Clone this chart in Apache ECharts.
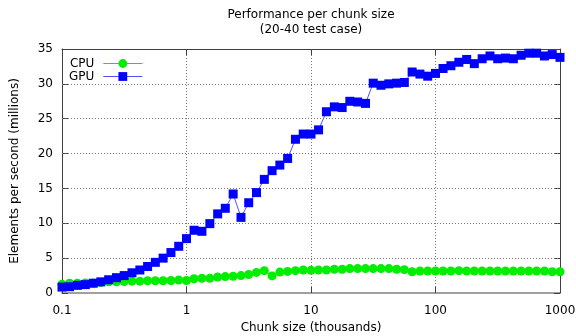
<!DOCTYPE html>
<html>
<head>
<meta charset="utf-8">
<script src="https://cdn.jsdelivr.net/npm/echarts@6/dist/echarts.min.js"></script>
<style>
html,body{margin:0;padding:0;background:#fff;}
#chart{width:576px;height:336px;}
</style>
</head>
<body>
<div id="chart"></div>
<script>
// Chunk sizes (thousands)
var chunkSizes = [0.1, 0.115, 0.133, 0.154, 0.178, 0.205, 0.237, 0.274, 0.316, 0.365, 0.422, 0.487, 0.562, 0.649, 0.75, 0.866,
  1, 1.15, 1.33, 1.54, 1.78, 2.05, 2.37, 2.74, 3.16, 3.65, 4.22, 4.87, 5.62, 6.49, 7.5, 8.66,
  10, 11.5, 13.3, 15.4, 17.8, 20.5, 23.7, 27.4, 31.6, 36.5, 42.2, 48.7, 56.2, 64.9, 75, 86.6,
  100, 115, 133, 154, 178, 205, 237, 274, 316, 365, 422, 487, 562, 649, 750, 866, 1000];
// Elements per second (millions)
var cpuValues = [1.25, 1.4, 1.4, 1.45, 1.45, 1.5, 1.6, 1.6, 1.65, 1.7, 1.7, 1.75, 1.75, 1.75, 1.8, 1.85,
  1.8, 2.05, 2.1, 2.1, 2.3, 2.35, 2.4, 2.5, 2.65, 2.95, 3.2, 2.45, 3.0, 3.1, 3.2, 3.3,
  3.25, 3.3, 3.3, 3.4, 3.4, 3.5, 3.5, 3.5, 3.5, 3.5, 3.5, 3.4, 3.35, 3.05, 3.15, 3.15,
  3.15, 3.15, 3.15, 3.2, 3.15, 3.15, 3.15, 3.15, 3.15, 3.15, 3.15, 3.15, 3.15, 3.15, 3.15, 3.05, 3.05];
var gpuValues = [0.85, 0.9, 1.1, 1.2, 1.4, 1.6, 1.9, 2.2, 2.5, 2.9, 3.3, 3.8, 4.4, 5.0, 5.8, 6.7,
  7.8, 9.0, 8.85, 9.95, 11.35, 12.15, 14.2, 10.85, 12.95, 14.4, 16.3, 17.55, 18.35, 19.3, 22.05, 22.8,
  22.8, 23.4, 26.0, 26.7, 26.6, 27.5, 27.4, 27.2, 30.1, 29.8, 30.0, 30.1, 30.2, 31.7, 31.4, 31.1,
  31.5, 32.2, 32.6, 33.1, 33.5, 32.9, 33.6, 34.0, 33.6, 33.7, 33.6, 34.1, 34.4, 34.4, 34.0, 34.2, 33.8];
// Horizontal grid levels (y ticks inside the plot)
var yGridValues = [5, 10, 15, 20, 25, 30];
var titleLines = ['Performance per chunk size', '(20-40 test case)'];

function pairs(xs, ys) { return xs.map(function (x, i) { return [x, ys[i]]; }); }

var FONT = 'DejaVu Sans';
var chart = echarts.init(document.getElementById('chart'), null, {renderer: 'canvas'});

function gridLine(color) { return {show: true, lineStyle: {color: color, type: [1, 2], width: 1}}; }
function tick() { return {show: true, inside: true, length: 6, lineStyle: {color: '#404040', width: 1}}; }
function axisLine(color, width) { return {show: true, onZero: false, lineStyle: {color: color, width: width}}; }

var option = {
  animation: false,
  backgroundColor: '#ffffff',
  textStyle: {fontFamily: FONT},
  graphic: [{
    type: 'text', x: 311, y: 8,
    style: {text: titleLines.join('\n'), align: 'center', verticalAlign: 'top',
      font: '12px "DejaVu Sans"', lineHeight: 14.5, fill: '#000'}
  }],
  grid: {left: 62, right: 16, top: 49, bottom: 43, containLabel: false, outerBoundsMode: 'none'},
  legend: {
    orient: 'vertical', left: 64, top: 52, align: 'right',
    itemWidth: 39, itemHeight: 11, itemGap: 0,
    lineStyle: {width: 1},
    textStyle: {fontFamily: FONT, fontSize: 12, color: '#000', lineHeight: 13, padding: [0, 4, 0, 0]},
    data: ['CPU', 'GPU']
  },
  xAxis: [
    {
      type: 'log', logBase: 10, min: 0.1, max: 1000, position: 'bottom',
      name: 'Chunk size (thousands)', nameLocation: 'middle', nameGap: 29,
      nameTextStyle: {fontFamily: FONT, fontSize: 12, color: '#000'},
      axisLine: axisLine('#a0a0a0', 2),
      axisTick: tick(),
      axisLabel: {fontFamily: FONT, fontSize: 12, color: '#000', margin: 12,
        formatter: function (v) { return String(+(+v).toPrecision(6)); }},
      splitLine: gridLine('#777777')
    },
    {
      type: 'value', min: -1, max: 3, interval: 1, position: 'top',
      axisLine: axisLine('#404040', 1),
      axisTick: tick(),
      axisLabel: {show: false},
      splitLine: {show: false}
    }
  ],
  yAxis: [
    {
      type: 'value', min: 0, max: 35, interval: 5, position: 'left',
      name: 'Elements per second (millions)', nameLocation: 'middle', nameGap: 41,
      nameTextStyle: {fontFamily: FONT, fontSize: 12, color: '#000'},
      axisLine: axisLine('#404040', 1),
      axisTick: tick(),
      axisLabel: {fontFamily: FONT, fontSize: 12, color: '#000', margin: 9},
      splitLine: gridLine('#666666')
    },
    {
      type: 'value', min: 0, max: 35, interval: 5, position: 'right',
      axisLine: axisLine('#404040', 1),
      axisTick: tick(),
      axisLabel: {show: false},
      splitLine: {show: false}
    }
  ],
  series: [
    {
      name: 'CPU', type: 'line', xAxisIndex: 0, yAxisIndex: 0,
      data: pairs(chunkSizes, cpuValues),
      symbol: 'circle', symbolSize: 9, showAllSymbol: true,
      itemStyle: {color: '#00ee00'},
      lineStyle: {color: '#00ee00', width: 1},
      markLine: {
        silent: true, animation: false, z: 1,
        symbol: ['none', 'none'],
        label: {show: false},
        emphasis: {disabled: true},
        lineStyle: {color: '#777777', type: [1, 2], width: 1},
        data: yGridValues.map(function (v) { return {yAxis: v}; })
      }
    },
    {
      name: 'GPU', type: 'line', xAxisIndex: 0, yAxisIndex: 0,
      data: pairs(chunkSizes, gpuValues),
      symbol: 'rect', symbolSize: 9, showAllSymbol: true,
      itemStyle: {color: '#0000ff'},
      lineStyle: {color: '#5050ff', width: 1}
    }
  ]
};
chart.setOption(option);
</script>
</body>
</html>
